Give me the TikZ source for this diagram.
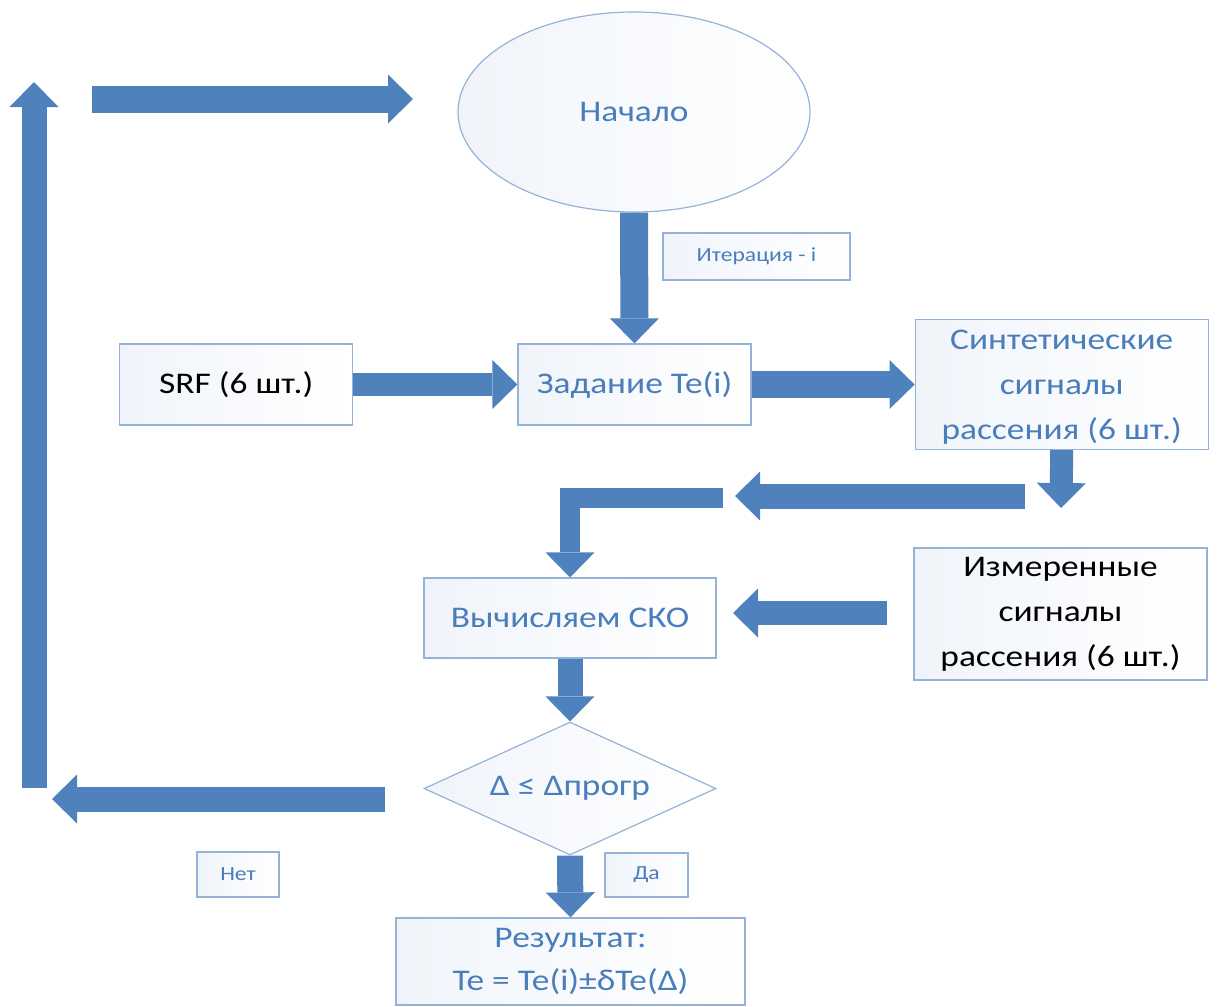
\documentclass[tikz,border=0pt]{standalone}
\usepackage{fontspec}
\setmainfont{Carlito}[FakeStretch=1.18]
\usepackage{tikz}
\usetikzlibrary{shapes.geometric,arrows.meta,positioning}

\definecolor{arrowblue}{RGB}{79,129,189}
\definecolor{boxline}{RGB}{149,179,215}
\definecolor{boxfill}{RGB}{240,244,250}
\definecolor{textblue}{RGB}{74,126,187}

\newcommand{\mainsize}{\fontsize{30pt}{45pt}\selectfont}
\newcommand{\tagsize}{\fontsize{20pt}{25pt}\selectfont}

\tikzset{
  box/.style={draw=boxline, line width=1.2pt, left color=boxfill, right color=white,
    text=textblue, align=center, inner sep=0pt, font=\mainsize},
  tag/.style={box, font=\tagsize},
  blockarrow/.style={draw=arrowblue, line width=#1, line join=miter,
    -{Triangle[length=25pt,width=49pt,line width=0pt]}},
  blockarrow/.default=25pt
}

\begin{document}
\begin{tikzpicture}[x=1pt, y=-1pt, node distance=163pt and 163pt]
  \useasboundingbox (0,0) rectangle (1219,1007);

  \node[box, ellipse, minimum width=352pt, minimum height=200pt] (start) at (634,112) {Начало};
  \node[box, minimum width=233pt, minimum height=81pt] (setTe) at (634.5,384.5) {Задание Te(i)};
  \node[box, text=black, minimum width=233pt, minimum height=81pt, left=164pt of setTe] (srf) {SRF (6 шт.)};
  \node[box, minimum width=293pt, minimum height=130pt, right=of setTe, text depth=-4pt] (synth) {Синтетические\\сигналы\\рассения (6 шт.)};
  \node[tag, minimum width=187pt, minimum height=47pt] (iter) at (756.5,256.5) {Итерация - i};
  \node[box, minimum width=292pt, minimum height=80pt] (sko) at (570,618) {Вычисляем СКО};
  \node[box, text=black, minimum width=293pt, minimum height=132pt] (meas) at (1060.5,614) {Измеренные\\сигналы\\рассения (6 шт.)};
  \node[box, diamond, aspect=2.2, minimum width=292pt, minimum height=133pt] (cond) at (570,788.5) {Δ ≤ Δпрогр};
  \node[tag, minimum width=82pt, minimum height=45pt] (no) at (238,874.5) {Нет};
  \node[tag, minimum width=83pt, minimum height=44pt] (yes) at (646.5,875) {Да};
  \node[box, minimum width=349pt, minimum height=87pt, font=\fontsize{30pt}{43pt}\selectfont] (res) at (570.5,961.5) {Результат:\\Te = Te(i)±δTe(Δ)};

  \coordinate (synthdown) at (1061,508);
  \coordinate (backR) at (1025,496);
  \coordinate (backL) at (735,496);
  \coordinate (elbow) at (723,498);
  \coordinate (measout) at (887,613);
  \coordinate (measin) at (733,613);
  \coordinate (noR) at (385,799);
  \coordinate (noL) at (52,799);
  \coordinate (upB) at (34,788);
  \coordinate (upT) at (34,82);
  \coordinate (topL) at (92,99);
  \coordinate (topR) at (413,99);

  \draw[blockarrow=28pt] (start.south) -- (setTe.north);
  \draw[blockarrow=23pt] (srf.east) -- (setTe.west);
  \draw[blockarrow=27pt] (setTe.east) -- (synth.west);
  \draw[blockarrow=23pt] (synth.south) -- (synthdown);
  \draw[blockarrow] (backR) -- (backL);
  \draw[blockarrow=20pt] (elbow) -| (sko.north);
  \draw[blockarrow=24pt] (measout) -- (measin);
  \draw[blockarrow] (sko.south) -- (cond.north);
  \draw[blockarrow=26pt] (cond.south) -- (res.north);
  \draw[blockarrow] (noR) -- (noL);
  \draw[blockarrow] (upB) -- (upT);
  \draw[blockarrow=27pt] (topL) -- (topR);
\end{tikzpicture}
\end{document}
